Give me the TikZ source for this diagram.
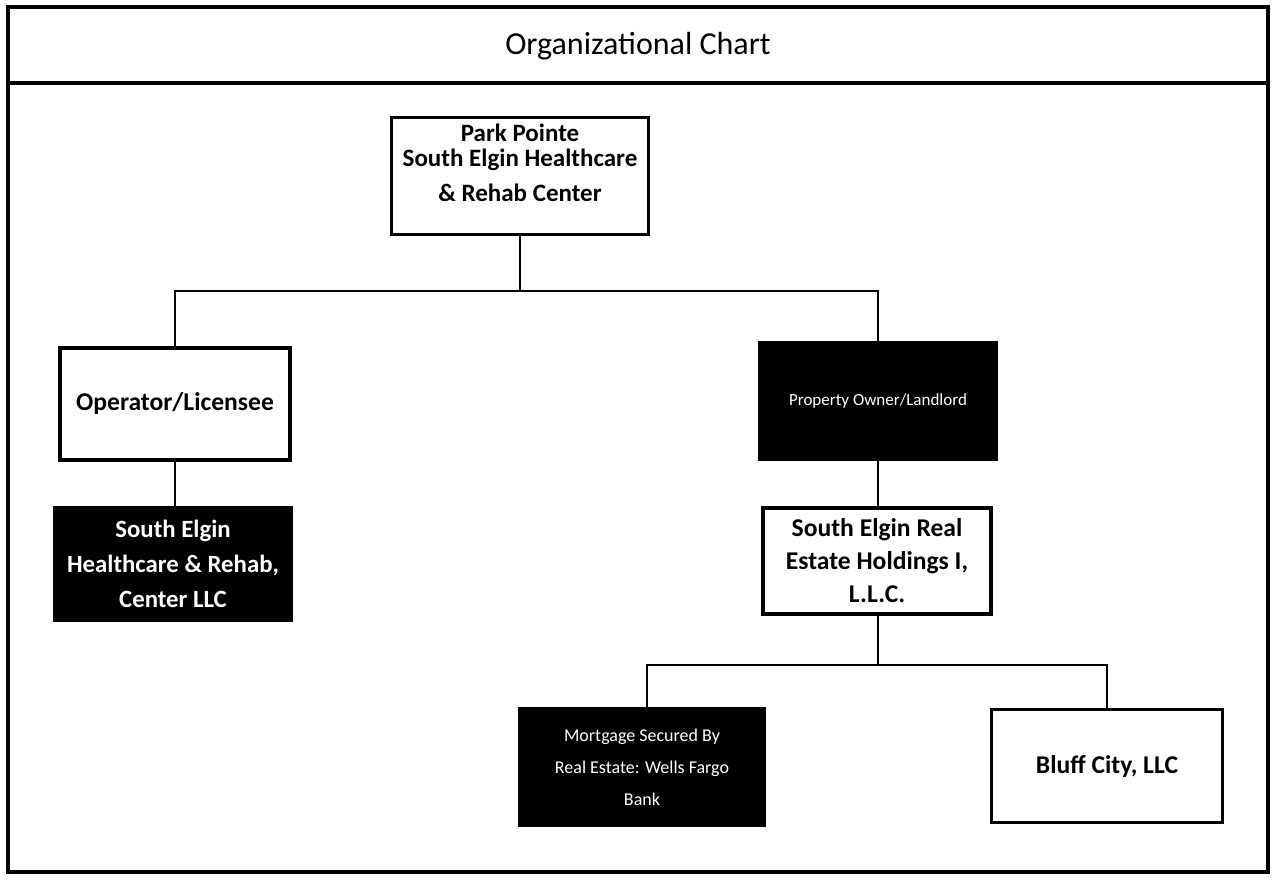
\documentclass[tikz,border=0pt]{standalone}
\usepackage{fontspec}
\setmainfont{Carlito}
\begin{document}
\begin{tikzpicture}[x=0.5pt,y=-0.5pt,
  wbox/.style={draw=black,line width=1.6pt,fill=white,inner sep=2pt,align=center,font=\bfseries\fontsize{12.8}{16.5}\selectfont},
  bbox/.style={draw=black,line width=1.6pt,fill=black,text=white,inner sep=2pt,align=center},
  conn/.style={draw=black,line width=1.1pt}]
\useasboundingbox (0,0) rectangle (1273,880);
\draw[line width=2pt] (8,7) rectangle (1268,872);
\draw[line width=2pt] (8,83) -- (1268,83);
\node[font=\fontsize{16}{19}\selectfont] (title) at (638,46) {Organizational Chart};

\node[wbox,minimum width=128.5pt,minimum height=58.5pt] (root) at (520,176) {};
\node[align=center,font=\bfseries\fontsize{12.5}{12.5}\selectfont,inner sep=0pt] (rootlbl) at (520,163) {Park Pointe\\South Elgin Healthcare\\[5pt]\& Rehab Center};
\node[wbox,minimum width=115pt,minimum height=56pt] (op) at (175,404) {Operator/Licensee};
\node[bbox,minimum width=118pt,minimum height=56pt,font=\bfseries\fontsize{12.4}{17.5}\selectfont] (seh) at (173,564) {South Elgin\\Healthcare \& Rehab,\\Center LLC};
\node[bbox,minimum width=118pt,minimum height=58pt,font=\fontsize{8.5}{10}\selectfont] (own) at (878,401) {Property Owner/Landlord};
\node[wbox,minimum width=114pt,minimum height=53pt] (re) at (877,561) {South Elgin Real\\Estate Holdings I,\\L.L.C.};
\node[bbox,minimum width=122.5pt,minimum height=58.5pt,font=\fontsize{9}{16}\selectfont] (mort) at (642,767) {Mortgage Secured By\\Real Estate: Wells Fargo\\Bank};
\node[wbox,minimum width=115.5pt,minimum height=56.5pt] (bluff) at (1107,766) {Bluff City, LLC};

\coordinate (j1) at (520,291);
\coordinate (j2) at (878,665);
\draw[conn] (root.south) -- (j1);
\draw[conn] (op.north) -- (op.north |- j1) -- (own.north |- j1) -- (own.north);
\draw[conn] (op.south) -- (op.south |- seh.north);
\draw[conn] (own.south) -- (re.north -| own.south);
\draw[conn] (re.south -| j2) -- (j2);
\draw[conn] (mort.north -| 647,0) -- (647,665) -- (bluff.north |- j2) -- (bluff.north);
\end{tikzpicture}
\end{document}
